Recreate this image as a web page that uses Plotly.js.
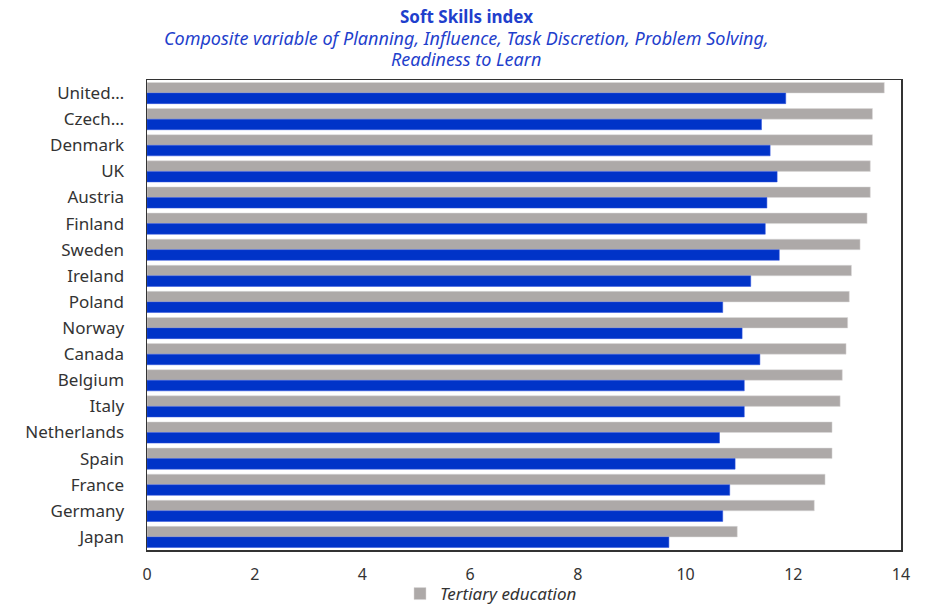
<!DOCTYPE html>
<html>
<head>
<meta charset="utf-8">
<script src="https://cdn.plot.ly/plotly-3.0.1.min.js"></script>
<style>html,body{margin:0;padding:0;background:#fff;}#chart{width:928px;height:604px;}</style>
</head>
<body>
<div id="chart"></div>
<script>
const countries = ["United…","Czech…","Denmark","UK","Austria","Finland","Sweden","Ireland","Poland","Norway","Canada","Belgium","Italy","Netherlands","Spain","France","Germany","Japan"];
const tertiary = [13.69,13.47,13.47,13.43,13.43,13.37,13.24,13.08,13.04,13.01,12.98,12.91,12.87,12.72,12.72,12.59,12.39,10.96];
const otherEdu = [11.86,11.41,11.57,11.70,11.51,11.48,11.74,11.21,10.69,11.05,11.38,11.09,11.09,10.63,10.92,10.82,10.69,9.69];
const xTicks = [0,2,4,6,8,10,12,14];
const titleLines = ["<b>Soft Skills index</b>",
  "<i>Composite variable of Planning, Influence, Task Discretion, Problem Solving,</i>",
  "<i>Readiness to Learn</i>"];

const FONT = "Noto Sans, Open Sans, sans-serif";
const traces = [
  {type:"bar", orientation:"h", y:countries, x:tertiary, name:"Tertiary education",
   marker:{color:"#ADA9A8", line:{color:"#DCDADA", width:0.5}}, showlegend:true},
  {type:"bar", orientation:"h", y:countries, x:otherEdu, name:"Other",
   marker:{color:"#0033C8", line:{color:"#3355DD", width:0.5}}, showlegend:false}
];
const titleY = [16, 38, 59];
const titleSizes = [17, 18, 18];
const annotations = titleLines.map((t, i) => ({
  text:t, xref:"paper", x:(466-147)/754, xanchor:"center",
  yref:"paper", y:(550-titleY[i])/470, yanchor:"middle", showarrow:false,
  font:{family:FONT, size:titleSizes[i], color:"#1F3FCC"}
}));
const layout = {
  width:928, height:604,
  margin:{l:147, r:27, t:80, b:54, autoexpand:false},
  paper_bgcolor:"#fff", plot_bgcolor:"#fff",
  barmode:"group", bargap:0.19, bargroupgap:0,
  font:{family:FONT, color:"#333", size:17},
  annotations:annotations,
  xaxis:{range:[0,14], tickvals:xTicks, ticktext:xTicks.map(String), showgrid:false, zeroline:false,
    showline:true, mirror:true, linecolor:"#333", linewidth:1.5, ticks:"", ticklabelstandoff:9,
    automargin:false, tickfont:{family:FONT, size:16, color:"#333"}},
  yaxis:{autorange:"reversed", showgrid:false, zeroline:false, showline:true, mirror:true,
    linecolor:"#333", linewidth:1.5, ticks:"", ticklabelstandoff:18, automargin:false,
    tickfont:{family:FONT, size:17, color:"#333"}},
  legend:{orientation:"h", x:(491-147)/754, xanchor:"center", y:(550-594)/470, yanchor:"middle",
    font:{family:FONT, size:17, color:"#333", style:"italic"}, bgcolor:"rgba(0,0,0,0)",
    itemwidth:30}
};
Plotly.newPlot("chart", traces, layout, {displayModeBar:false, staticPlot:true});
</script>
</body>
</html>
